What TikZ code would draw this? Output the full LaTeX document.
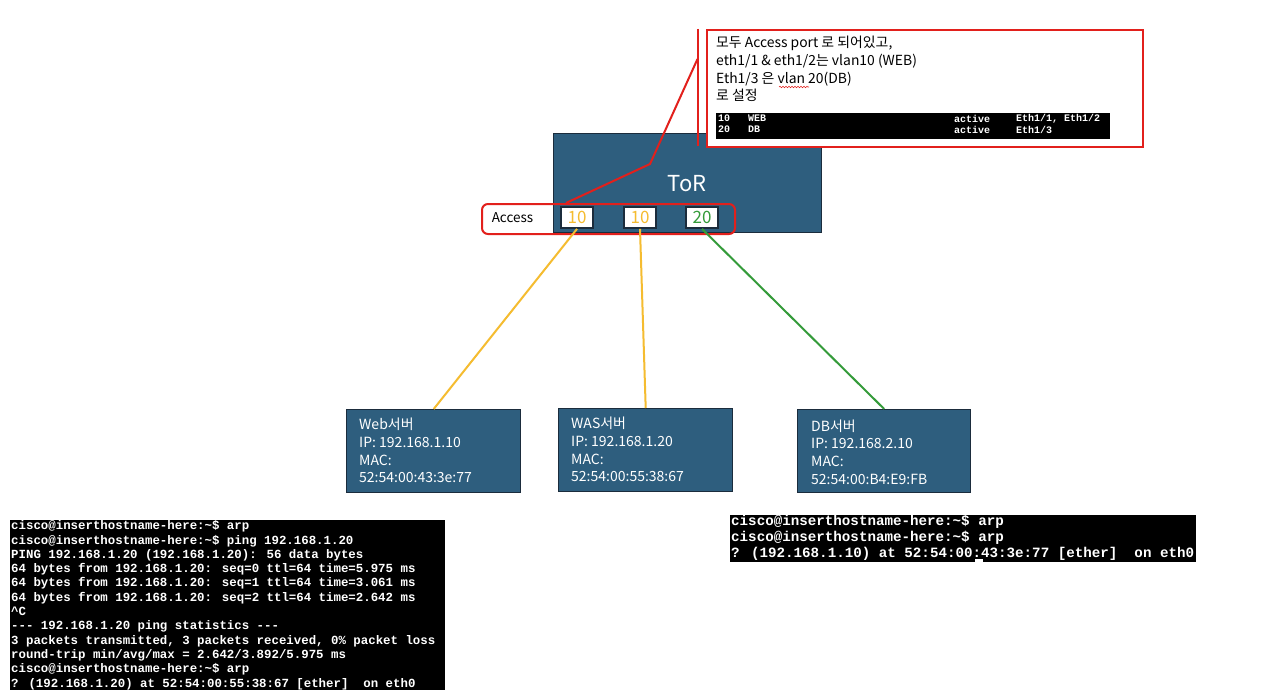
\documentclass[tikz,border=0pt]{standalone}
\usepackage{fontspec}
\setmainfont{Noto Sans CJK KR}
\newfontfamily\kr{Noto Sans CJK KR}
\newfontfamily\term{Liberation Mono}
\usetikzlibrary{decorations.pathmorphing}
\definecolor{tor}{RGB}{46,94,126}
\definecolor{torborder}{RGB}{27,44,60}
\definecolor{callred}{RGB}{226,32,28}
\definecolor{vorange}{RGB}{245,188,48}
\definecolor{vgreen}{RGB}{52,155,58}
\tikzset{
  bluebox/.style={draw=torborder, fill=tor, line width=1.4pt, inner sep=0pt, anchor=north west},
  portbox/.style={draw=torborder, fill=white, line width=1.8pt, minimum width=32pt, minimum height=21pt, inner sep=0pt, font=\kr\fontsize{17}{17}\selectfont},
  srvtext/.style={text=white, align=left, anchor=west, inner sep=0pt, font=\kr\fontsize{14}{17.8}\selectfont},
  termbg/.style={fill=black, inner sep=0pt, anchor=north west},
  termtext/.style={text=white, align=left, anchor=north west, inner sep=0pt},
  redline/.style={draw=callred, line width=2pt},
  olink/.style={draw=vorange, line width=2pt},
  glink/.style={draw=vgreen, line width=2pt},
  vtcell/.style={text=white, anchor=west, inner sep=0pt, font=\term\bfseries\fontsize{10}{11}\selectfont}
}
\begin{document}
\begin{tikzpicture}[x=1pt,y=-1pt]
\useasboundingbox[fill=white] (0,0) rectangle (1280,698);

% ToR switch
\node[bluebox, minimum width=268pt, minimum height=99pt] (tor) at (553,133) {};
\node[text=white, font=\kr\fontsize{22}{22}\selectfont, inner sep=0pt] (torlabel) at (687,184) {ToR};

% ports
\node[portbox, text=vorange] (p1) at (577,217.5) {10};
\node[portbox, text=vorange] (p2) at (640,217.5) {10};
\node[portbox, text=vgreen] (p3) at (702,217.5) {20};
\node[font=\kr\fontsize{13.5}{13.5}\selectfont, inner sep=0pt] (acc) at (512.5,218) {Access};
\node[redline, rounded corners=6pt, minimum width=253pt, minimum height=30pt, anchor=north west, inner sep=0pt] (accbox) at (481,203) {};

% servers
\node[bluebox, minimum width=174pt, minimum height=83pt] (web) at (346,409) {};
\node[srvtext] (webtxt) at (359,450.5) {Web서버\\IP: 192.168.1.10\\MAC:\\52:54:00:43:3e:77};
\node[bluebox, minimum width=174pt, minimum height=83pt] (was) at (558,408) {};
\node[srvtext] (wastxt) at (571,449.5) {WAS서버\\IP: 192.168.1.20\\MAC:\\52:54:00:55:38:67};
\node[bluebox, minimum width=173pt, minimum height=83pt] (db) at (797,409) {};
\node[srvtext] (dbtxt) at (811,452) {DB서버\\IP: 192.168.2.10\\MAC:\\52:54:00:B4:E9:FB};

% links
\draw[olink] (p1.south) -- (web.north);
\draw[olink] (p2.south) -- (was.north);
\draw[glink] (p3.south) -- (db.north);

% annotation callout
\node[redline, fill=white, minimum width=436pt, minimum height=117pt, anchor=north west, inner sep=0pt] (ann) at (706,29) {};
\node[anchor=north west, align=left, inner sep=0pt, font=\kr\fontsize{13.9}{17.7}\selectfont] (anntxt) at (716,36) {모두 Access port 로 되어있고,\\eth1/1 \& eth1/2는 vlan10 (WEB)\\Eth1/3 은 vlan 20(DB)\\로 설정};
\draw[callred, line width=0.6pt, decorate, decoration={snake, amplitude=0.7pt, segment length=3pt}] (779,87) -- (809,87);
\node[termbg, minimum width=394pt, minimum height=26pt] (vt) at (716,113) {};
\node[vtcell] (v1a) at (718,118.5) {10};
\node[vtcell] (v1b) at (748,118.5) {WEB};
\node[vtcell] (v1c) at (954,118.5) {active};
\node[vtcell] (v1d) at (1016,118.5) {Eth1/1, Eth1/2};
\node[vtcell] (v2a) at (718,129.5) {20};
\node[vtcell] (v2b) at (748,129.5) {DB};
\node[vtcell] (v2c) at (954,129.5) {active};
\node[vtcell] (v2d) at (1016,129.5) {Eth1/3};

\coordinate (bartop) at (697.5,29);
\coordinate (barbot) at (697.5,146);
\coordinate (cbar) at (697.5,59);
\coordinate (cknee) at (650,164);
\coordinate (ctip) at (566,203);
\draw[redline] (bartop) -- (barbot);
\draw[redline] (cbar) -- (cknee) -- (ctip);

% terminal 1
\node[termbg, minimum width=435pt, minimum height=170pt] (term1) at (10,520) {};
\node[termtext, font=\term\bfseries\fontsize{12.4}{14.3}\selectfont] (t1txt) at (11,520.5) {cisco@inserthostname-here:\textasciitilde\$ arp\\
cisco@inserthostname-here:\textasciitilde\$ ping 192.168.1.20\\
PING 192.168.1.20 (192.168.1.20): 56 data bytes\\
64 bytes from 192.168.1.20: seq=0 ttl=64 time=5.975 ms\\
64 bytes from 192.168.1.20: seq=1 ttl=64 time=3.061 ms\\
64 bytes from 192.168.1.20: seq=2 ttl=64 time=2.642 ms\\
\textasciicircum C\\
-{}-{}- 192.168.1.20 ping statistics -{}-{}-\\
3 packets transmitted, 3 packets received, 0\% packet loss\\
round-trip min/avg/max = 2.642/3.892/5.975 ms\\
cisco@inserthostname-here:\textasciitilde\$ arp\\
? (192.168.1.20) at 52:54:00:55:38:67 [ether]\ \ on eth0};

% terminal 2
\node[termbg, minimum width=466pt, minimum height=47pt] (term2) at (730,515) {};
\node[termtext, font=\term\bfseries\fontsize{14.2}{16}\selectfont] (t2txt) at (731,514.5) {cisco@inserthostname-here:\textasciitilde\$ arp\\
cisco@inserthostname-here:\textasciitilde\$ arp\\
? (192.168.1.10) at 52:54:00:43:3e:77 [ether]\ \ on eth0};
\fill[white] (975,559) rectangle (983,562);
\end{tikzpicture}
\end{document}
